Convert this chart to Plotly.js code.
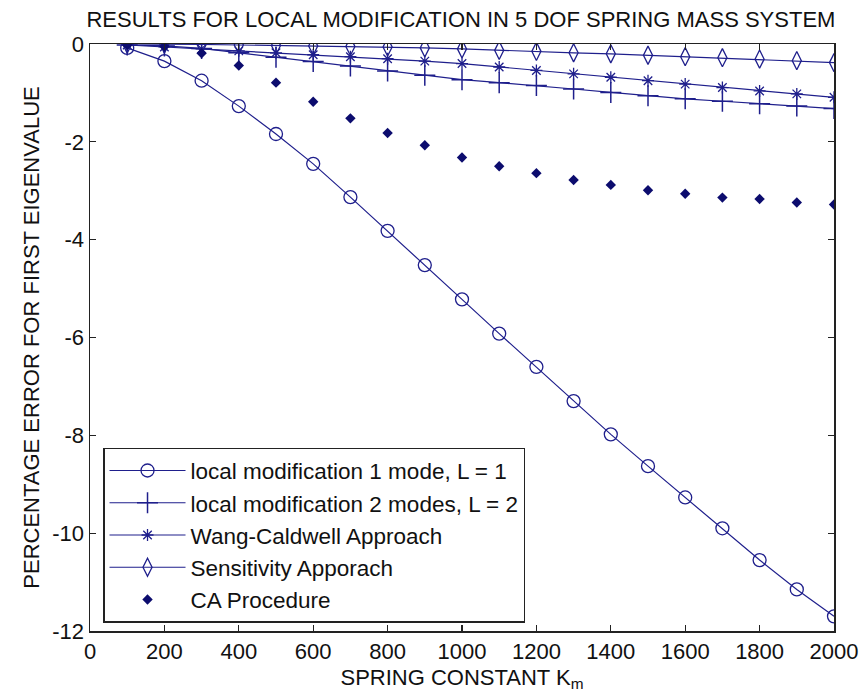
<!DOCTYPE html>
<html>
<head>
<meta charset="utf-8">
<script src="https://cdn.plot.ly/plotly-3.0.1.min.js"></script>
<style>html,body{margin:0;padding:0;background:#fff;}#chart{width:860px;height:700px;}</style>
</head>
<body>
<div id="chart"></div>
<script>
var springK = [100,200,300,400,500,600,700,800,900,1000,1100,1200,1300,1400,1500,1600,1700,1800,1900,2000];
var localMod1 = [-0.08,-0.35,-0.75,-1.27,-1.84,-2.45,-3.13,-3.82,-4.52,-5.22,-5.92,-6.60,-7.30,-7.98,-8.63,-9.27,-9.90,-10.55,-11.15,-11.70];
var localMod2 = [-0.02,-0.04,-0.09,-0.18,-0.27,-0.36,-0.45,-0.55,-0.64,-0.73,-0.79,-0.85,-0.92,-0.99,-1.06,-1.12,-1.17,-1.22,-1.27,-1.32];
var wangCaldwell = [-0.02,-0.06,-0.10,-0.14,-0.18,-0.22,-0.26,-0.30,-0.35,-0.40,-0.47,-0.54,-0.61,-0.68,-0.75,-0.82,-0.89,-0.96,-1.02,-1.09];
var sensitivity = [0,0,-0.01,-0.02,-0.03,-0.04,-0.05,-0.06,-0.08,-0.10,-0.13,-0.15,-0.18,-0.20,-0.23,-0.26,-0.28,-0.31,-0.34,-0.38];
var caProcedure = [-0.02,-0.05,-0.19,-0.44,-0.79,-1.18,-1.52,-1.82,-2.07,-2.32,-2.50,-2.64,-2.78,-2.88,-2.99,-3.06,-3.14,-3.17,-3.24,-3.28];
var seriesNames = ['local modification 1 mode, L = 1','local modification 2 modes, L = 2','Wang-Caldwell Approach','Sensitivity Apporach','CA Procedure'];
var xTickVals = [0,200,400,600,800,1000,1200,1400,1600,1800,2000];
var xTickText = ['0','200','400','600','800','1000','1200','1400','1600','1800','2000'];
var yTickVals = [-12,-10,-8,-6,-4,-2,0];
var yTickText = ['-12','-10','-8','-6','-4','-2','0'];

var lineCol = '#1f1f8c';
var font = '"Liberation Sans", Arial, sans-serif';

var traces = [
  {x: springK, y: localMod1, name: seriesNames[0], mode: 'lines+markers',
   line: {color: lineCol, width: 1.2}, marker: {symbol: 'circle-open', size: 13, color: lineCol, line: {width: 1.3}}},
  {x: springK, y: localMod2, name: seriesNames[1], mode: 'lines+markers',
   line: {color: lineCol, width: 1.2}, marker: {symbol: 'cross-thin-open', size: 15, color: lineCol, line: {width: 1.5, color: lineCol}}},
  {x: springK, y: wangCaldwell, name: seriesNames[2], mode: 'lines+markers',
   line: {color: lineCol, width: 1.2}, marker: {symbol: 'asterisk-open', size: 10, color: lineCol, line: {width: 1.3, color: lineCol}}},
  {x: springK, y: sensitivity, name: seriesNames[3], mode: 'lines+markers',
   line: {color: lineCol, width: 1.2}, marker: {symbol: 'diamond-tall-open', size: 13, color: lineCol, line: {width: 1.3}}},
  {x: springK, y: caProcedure, name: seriesNames[4], mode: 'markers',
   marker: {symbol: 'diamond', size: 8, color: '#0c0c6e'}}
];

var layout = {
  width: 860, height: 700,
  paper_bgcolor: '#fff', plot_bgcolor: '#fff',
  margin: {l: 90, r: 26, t: 44, b: 69},
  font: {family: font, size: 22, color: '#111'},
  title: {text: 'RESULTS FOR LOCAL MODIFICATION IN 5 DOF SPRING MASS SYSTEM',
          font: {family: font, size: 22, color: '#111'},
          x: 0.536, xanchor: 'center', y: 0.972, yanchor: 'middle', yref: 'container'},
  xaxis: {range: [0, 2000], tickvals: xTickVals, ticktext: xTickText,
          ticks: 'inside', ticklen: 6, tickcolor: '#222', tickwidth: 1.2,
          showline: true, linecolor: '#222', linewidth: 1.5, mirror: 'ticks',
          showgrid: false, zeroline: false,
          tickfont: {family: font, size: 22, color: '#111'},
          title: {text: 'SPRING CONSTANT K<sub>m</sub>', font: {family: font, size: 22, color: '#111'}, standoff: 6}},
  yaxis: {range: [-12, 0], tickvals: yTickVals, ticktext: yTickText,
          ticks: 'inside', ticklen: 6, tickcolor: '#222', tickwidth: 1.2,
          showline: true, linecolor: '#222', linewidth: 1.5, mirror: 'ticks',
          showgrid: false, zeroline: false,
          tickfont: {family: font, size: 22, color: '#111'},
          title: {text: 'PERCENTAGE ERROR FOR FIRST EIGENVALUE', font: {family: font, size: 22, color: '#111'}, standoff: 6}},
  legend: {x: 0.0175, y: 0.312, xanchor: 'left', yanchor: 'top',
           bgcolor: '#fff', bordercolor: '#222', borderwidth: 1.5,
           font: {family: font, size: 22.5, color: '#111'},
           itemwidth: 76, tracegroupgap: 0},
  showlegend: true
};

Plotly.newPlot('chart', traces, layout, {displayModeBar: false, staticPlot: true});
</script>
</body>
</html>
